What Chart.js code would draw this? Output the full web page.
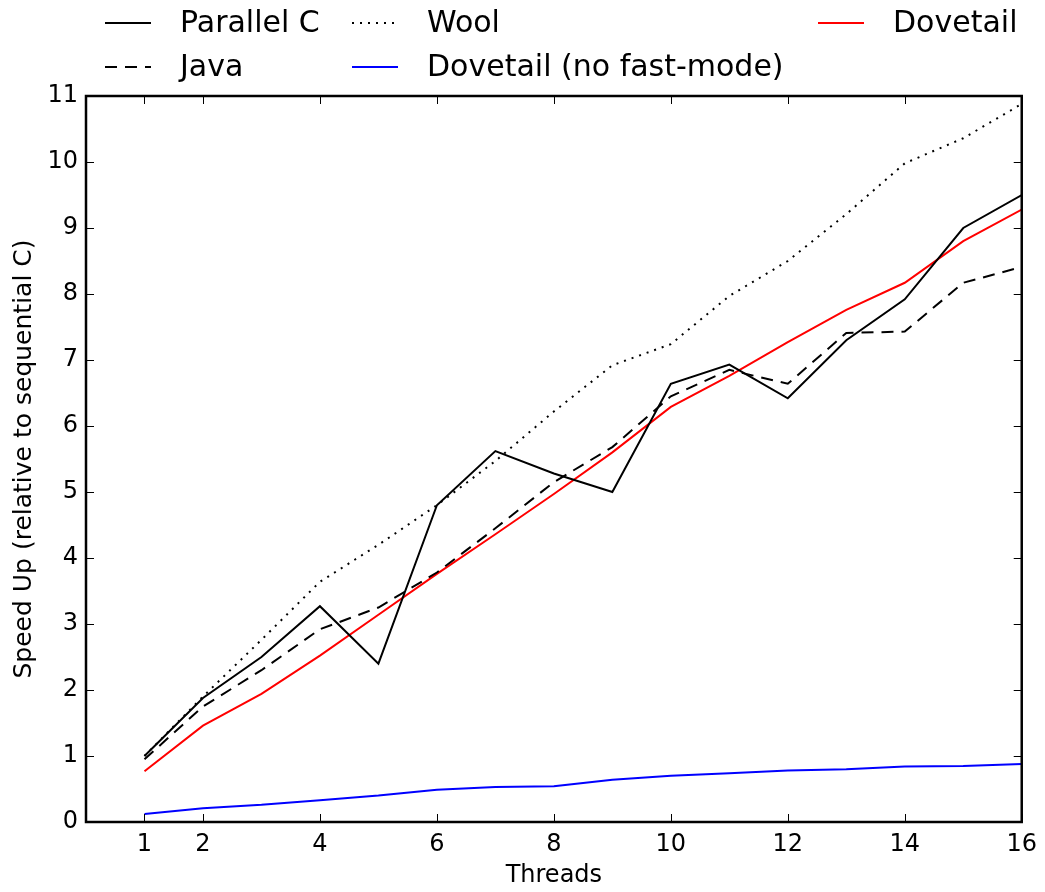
<!DOCTYPE html>
<html lang="en">
<head>
    <meta charset="UTF-8">
    <title>Speed Up vs Threads</title>
    <style>
        body {
            margin: 0;
            background: #ffffff;
        }
        #wrap {
            width: 1045px;
            height: 892px;
        }
    </style>
</head>
<body>
    <div id="wrap">
        <canvas id="speedChart" width="1045" height="892"></canvas>
    </div>

    <script src="https://cdn.jsdelivr.net/npm/chart.js"></script>
    <script>
// Data
const threads = [1, 2, 3, 4, 5, 6, 7, 8, 9, 10, 11, 12, 13, 14, 15, 16];
const xTicks = [1, 2, 4, 6, 8, 10, 12, 14, 16];

const parallelC = [1.0, 1.88, 2.5, 3.27, 2.4, 4.8, 5.62, 5.28, 5.0, 6.64, 6.93, 6.42, 7.3, 7.92, 9.0, 9.5];
const java = [0.95, 1.75, 2.3, 2.92, 3.25, 3.78, 4.45, 5.15, 5.68, 6.45, 6.85, 6.64, 7.41, 7.43, 8.17, 8.41];
const wool = [1.0, 1.9, 2.76, 3.64, 4.2, 4.8, 5.47, 6.22, 6.92, 7.24, 7.97, 8.5, 9.21, 9.98, 10.36, 10.88];
const dovetailNoFast = [0.12, 0.21, 0.26, 0.33, 0.4, 0.49, 0.53, 0.54, 0.64, 0.7, 0.74, 0.78, 0.8, 0.84, 0.85, 0.88];
const dovetail = [0.77, 1.46, 1.94, 2.52, 3.14, 3.76, 4.36, 4.97, 5.6, 6.29, 6.76, 7.27, 7.76, 8.17, 8.8, 9.28];

const FONT = "'DejaVu Sans', sans-serif";

function pts(values) {
    return threads.map((t, i) => ({ x: t, y: values[i] }));
}

const datasets = [
    { label: "Parallel C", data: pts(parallelC), borderColor: "#000000", borderDash: [] },
    { label: "Java", data: pts(java), borderColor: "#000000", borderDash: [12, 8] },
    { label: "Wool", data: pts(wool), borderColor: "#000000", borderDash: [2, 6] },
    { label: "Dovetail (no fast-mode)", data: pts(dovetailNoFast), borderColor: "#0000ff", borderDash: [] },
    { label: "Dovetail", data: pts(dovetail), borderColor: "#ff0000", borderDash: [] }
].map(d => Object.assign(d, {
    borderWidth: 2,
    pointRadius: 0,
    tension: 0,
    fill: false
}));

// matplotlib-like frame with inward ticks on all four sides
const frameTicks = {
    id: "frameTicks",
    afterDatasetsDraw(chart) {
        const { ctx, chartArea: a, scales } = chart;
        const len = 8;
        ctx.save();
        ctx.strokeStyle = "#000";
        ctx.lineWidth = 1;
        scales.x.ticks.forEach(t => {
            const px = Math.round(scales.x.getPixelForValue(t.value)) + 0.5;
            ctx.beginPath();
            ctx.moveTo(px, a.bottom); ctx.lineTo(px, a.bottom - len);
            ctx.moveTo(px, a.top); ctx.lineTo(px, a.top + len);
            ctx.stroke();
        });
        scales.y.ticks.forEach(t => {
            const py = Math.round(scales.y.getPixelForValue(t.value)) + 0.5;
            ctx.beginPath();
            ctx.moveTo(a.left, py); ctx.lineTo(a.left + len, py);
            ctx.moveTo(a.right, py); ctx.lineTo(a.right - len, py);
            ctx.stroke();
        });
        ctx.lineWidth = 2.5;
        ctx.strokeRect(a.left, a.top, a.right - a.left, a.bottom - a.top);
        ctx.restore();
    }
};

// legend above the axes, 3 columns filled column by column
const topLegend = {
    id: "topLegend",
    afterDraw(chart) {
        const { ctx, chartArea: a } = chart;
        const cols = [a.left + 19, a.left + 266, a.left + 732];
        const rows = [a.top - 73, a.top - 29];
        ctx.save();
        ctx.font = "30px " + FONT;
        ctx.textBaseline = "middle";
        ctx.fillStyle = "#000";
        chart.data.datasets.forEach((ds, k) => {
            const x = cols[Math.floor(k / 2)];
            const y = rows[k % 2];
            ctx.beginPath();
            ctx.strokeStyle = ds.borderColor;
            ctx.lineWidth = 2;
            ctx.setLineDash(ds.borderDash);
            ctx.moveTo(x, y);
            ctx.lineTo(x + 46, y);
            ctx.stroke();
            ctx.setLineDash([]);
            ctx.fillText(ds.label, x + 75, y + 1);
        });
        ctx.restore();
    }
};

new Chart(document.getElementById("speedChart").getContext("2d"), {
    type: "line",
    data: { datasets: datasets },
    options: {
        responsive: false,
        animation: false,
        layout: { padding: { top: 96, right: 23, left: 0, bottom: 0 } },
        plugins: {
            legend: { display: false },
            tooltip: { enabled: false }
        },
        scales: {
            x: {
                type: "linear",
                min: 0,
                max: 16,
                afterBuildTicks(scale) {
                    scale.ticks = xTicks.map(v => ({ value: v }));
                },
                afterFit(scale) {
                    scale.height = 70;
                },
                grid: { display: false, drawTicks: false },
                border: { display: false },
                ticks: {
                    color: "#000",
                    padding: 8,
                    font: { family: FONT, size: 24 }
                },
                title: {
                    display: true,
                    text: "Threads",
                    color: "#000",
                    padding: { top: 0, bottom: 2 },
                    font: { family: FONT, size: 24 }
                }
            },
            y: {
                min: 0,
                max: 11,
                afterFit(scale) {
                    scale.width = 86;
                },
                ticks: {
                    stepSize: 1,
                    color: "#000",
                    padding: 8,
                    font: { family: FONT, size: 24 }
                },
                grid: { display: false, drawTicks: false },
                border: { display: false },
                title: {
                    display: true,
                    text: "Speed Up (relative to sequential C)",
                    color: "#000",
                    padding: { top: 9, bottom: 0 },
                    font: { family: FONT, size: 25 }
                }
            }
        }
    },
    plugins: [frameTicks, topLegend]
});
    </script>
</body>
</html>
